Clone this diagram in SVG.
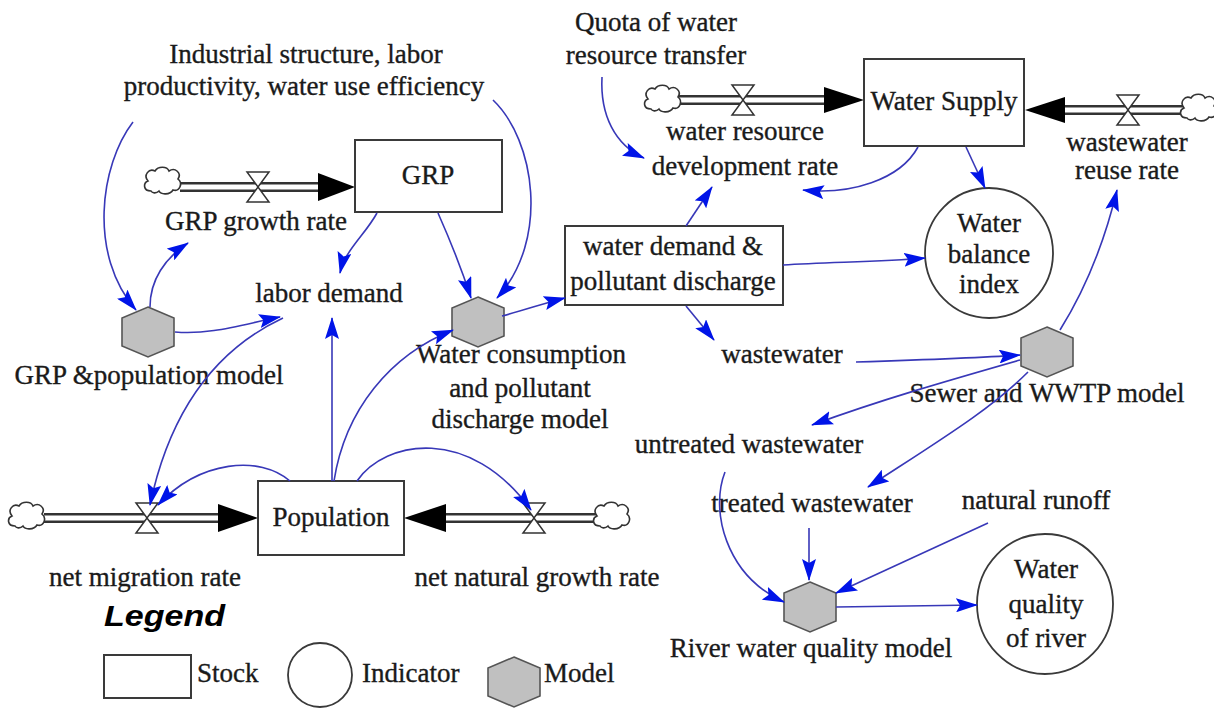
<svg xmlns="http://www.w3.org/2000/svg" width="1214" height="708" viewBox="0 0 1214 708">
  <style>
    .t { font-family: "Liberation Serif", "Times New Roman", serif; font-size: 27px; fill: #1a1a1a; stroke: #1a1a1a; stroke-width: 0.35; text-anchor: middle; }
    .ts { text-anchor: start; }
    .stock { fill: #fff; stroke: #3a3a3a; stroke-width: 2; }
    .ind { fill: #fff; stroke: #3a3a3a; stroke-width: 1.8; }
    .model { fill: #c0c0c0; stroke: #555; stroke-width: 1.6; }
    .link { fill: none; stroke: #3838b8; stroke-width: 1.6; marker-end: url(#arr); }
    .pipeOut { stroke: #333; stroke-width: 10; }
    .pipeIn { stroke: #fff; stroke-width: 5; }
    .head { fill: #000; }
    .cloud { fill: #fff; stroke: #333; stroke-width: 1.6; }
    .valve { fill: #fff; stroke: #333; stroke-width: 1.5; }
    .legend { font-family: "Liberation Sans", Arial, sans-serif; font-size: 30px; font-weight: bold; font-style: italic; fill: #000; }
  </style>
  <defs>
    <marker id="arr" viewBox="0 0 22 14" refX="21" refY="7" markerWidth="22" markerHeight="14" markerUnits="userSpaceOnUse" orient="auto">
      <path d="M0,0 L22,7 L0,14 L4,7 Z" fill="#0014e8"/>
    </marker>
    <path id="cloud" class="cloud" d="M-12,10 C-20,10 -20,2 -15,0 C-20,-6 -14,-13 -8,-10 C-5,-15 4,-15 6,-10 C12,-14 19,-8 15,-2 C20,2 17,11 10,9 C7,14 -2,14 -4,10 C-7,13 -11,12 -12,10 Z"/>
    <g id="valve">
      <path class="valve" d="M-11,-15 L11,-15 L0,0 Z"/>
      <path class="valve" d="M-11,15 L11,15 L0,0 Z"/>
    </g>
    <path id="hex" class="model" d="M0,-25 L26,-14 L26,14 L0,25 L-26,14 L-26,-14 Z"/>
  </defs>

  <rect width="1214" height="708" fill="#fff"/>

  <!-- material flows (pipes, valves, sources) -->
  <g id="flows">
    <!-- GRP growth -->
    <line class="pipeOut" x1="180" y1="187" x2="322" y2="187"/>
    <line class="pipeIn" x1="180" y1="187" x2="322" y2="187"/>
    <polygon class="head" points="318,173 355,187 318,201"/>
    <use href="#cloud" x="163" y="181"/>
    <use href="#valve" x="258" y="187"/>
    <!-- water resource development -->
    <line class="pipeOut" x1="679" y1="100" x2="828" y2="100"/>
    <line class="pipeIn" x1="679" y1="100" x2="828" y2="100"/>
    <polygon class="head" points="824,87 864,100 824,113"/>
    <use href="#cloud" x="663" y="99"/>
    <use href="#valve" x="743" y="100"/>
    <!-- wastewater reuse -->
    <line class="pipeOut" x1="1062" y1="110" x2="1183" y2="110"/>
    <line class="pipeIn" x1="1062" y1="110" x2="1183" y2="110"/>
    <polygon class="head" points="1065,97 1025,110 1065,123"/>
    <use href="#cloud" x="1199" y="108"/>
    <use href="#valve" x="1128" y="110"/>
    <!-- net migration -->
    <line class="pipeOut" x1="44" y1="518" x2="222" y2="518"/>
    <line class="pipeIn" x1="44" y1="518" x2="222" y2="518"/>
    <polygon class="head" points="218,504 258,518 218,532"/>
    <use href="#cloud" x="27" y="516"/>
    <use href="#valve" x="147" y="518"/>
    <!-- net natural growth -->
    <line class="pipeOut" x1="442" y1="518" x2="596" y2="518"/>
    <line class="pipeIn" x1="442" y1="518" x2="596" y2="518"/>
    <polygon class="head" points="446,504 404,518 446,532"/>
    <use href="#cloud" x="612" y="516"/>
    <use href="#valve" x="534" y="518"/>
  </g>

  <!-- stocks -->
  <g id="grp">
    <rect class="stock" x="355" y="140" width="147" height="72"/>
    <text class="t" x="428" y="184">GRP</text>
  </g>
  <g id="water-supply">
    <rect class="stock" x="864" y="59" width="160" height="87"/>
    <text class="t" x="944" y="110">Water Supply</text>
  </g>
  <g id="population">
    <rect class="stock" x="258" y="481" width="146" height="74"/>
    <text class="t" x="331" y="526">Population</text>
  </g>
  <g id="water-demand">
    <rect class="stock" x="565" y="226" width="218" height="79"/>
    <text class="t" x="673" y="255">water demand &amp;</text>
    <text class="t" x="673" y="290">pollutant discharge</text>
  </g>

  <!-- indicators -->
  <g id="water-balance-index">
    <ellipse class="ind" cx="989" cy="253" rx="64" ry="65"/>
    <text class="t" x="989" y="232">Water</text>
    <text class="t" x="989" y="263">balance</text>
    <text class="t" x="989" y="293">index</text>
  </g>
  <g id="water-quality-of-river">
    <ellipse class="ind" cx="1045" cy="604" rx="68" ry="70"/>
    <text class="t" x="1046" y="578">Water</text>
    <text class="t" x="1046" y="613">quality</text>
    <text class="t" x="1046" y="647">of river</text>
  </g>

  <!-- models -->
  <g id="grp-population-model">
    <use href="#hex" x="148" y="332"/>
    <text class="t" x="149" y="384">GRP &amp;population model</text>
  </g>
  <g id="water-consumption-model">
    <use href="#hex" x="478" y="322"/>
    <text class="t" x="521" y="363">Water consumption</text>
    <text class="t" x="520" y="397">and pollutant</text>
    <text class="t" x="520" y="428">discharge model</text>
  </g>
  <g id="sewer-wwtp-model">
    <use href="#hex" x="1047" y="352"/>
    <text class="t" x="1047" y="402">Sewer and WWTP model</text>
  </g>
  <g id="river-water-quality-model">
    <use href="#hex" x="810" y="607"/>
    <text class="t" x="811" y="657">River water quality model</text>
  </g>

  <!-- auxiliary variables and rates -->
  <g id="industrial-structure">
    <text class="t" x="306" y="63">Industrial structure, labor</text>
    <text class="t" x="304" y="95">productivity, water use efficiency</text>
  </g>
  <g id="quota-transfer">
    <text class="t" x="656" y="31">Quota of water</text>
    <text class="t" x="656" y="64">resource transfer</text>
  </g>
  <g id="water-resource-development-rate">
    <text class="t" x="745" y="140">water resource</text>
    <text class="t" x="745" y="175">development rate</text>
  </g>
  <g id="wastewater-reuse-rate">
    <text class="t" x="1127" y="151">wastewater</text>
    <text class="t" x="1127" y="179">reuse rate</text>
  </g>
  <g id="grp-growth-rate">
    <text class="t" x="256" y="230">GRP growth rate</text>
  </g>
  <g id="labor-demand">
    <text class="t" x="329" y="302">labor demand</text>
  </g>
  <g id="wastewater">
    <text class="t" x="782" y="363">wastewater</text>
  </g>
  <g id="untreated-wastewater">
    <text class="t" x="749" y="453">untreated wastewater</text>
  </g>
  <g id="treated-wastewater">
    <text class="t" x="812" y="512">treated wastewater</text>
  </g>
  <g id="natural-runoff">
    <text class="t" x="1036" y="509">natural runoff</text>
  </g>
  <g id="net-migration-rate">
    <text class="t" x="145" y="586">net migration rate</text>
  </g>
  <g id="net-natural-growth-rate">
    <text class="t" x="537" y="586">net natural growth rate</text>
  </g>

  <!-- information links -->
  <g id="connectors">
    <path class="link" d="M133,122 C100,165 88,255 136,310"/>
    <path class="link" d="M493,100 C535,140 550,240 497,298"/>
    <path class="link" d="M150,307 C150,280 165,258 188,243"/>
    <path class="link" d="M175,332 C210,335 240,325 280,317"/>
    <path class="link" d="M283,318 C215,350 170,410 150,505"/>
    <path class="link" d="M377,213 C365,235 345,250 340,273"/>
    <path class="link" d="M438,213 C450,240 462,270 471,298"/>
    <path class="link" d="M502,316 C525,310 545,303 565,298"/>
    <path class="link" d="M332,481 L332,318"/>
    <path class="link" d="M334,481 C345,410 390,355 453,330"/>
    <path class="link" d="M357,481 C385,440 470,425 531,510"/>
    <path class="link" d="M290,481 C260,455 200,460 158,505"/>
    <path class="link" d="M686,226 L712,187"/>
    <path class="link" d="M602,77 C600,115 615,145 644,158"/>
    <path class="link" d="M918,147 C900,180 850,195 803,190"/>
    <path class="link" d="M966,147 L985,188"/>
    <path class="link" d="M783,265 C830,262 880,262 925,258"/>
    <path class="link" d="M686,306 L714,340"/>
    <path class="link" d="M856,362 C920,360 980,358 1020,355"/>
    <path class="link" d="M1020,360 C950,380 880,400 812,425"/>
    <path class="link" d="M1028,372 C990,410 940,440 868,487"/>
    <path class="link" d="M1060,330 C1085,290 1105,240 1117,190"/>
    <path class="link" d="M725,472 C710,510 725,575 784,602"/>
    <path class="link" d="M809,528 L809,580"/>
    <path class="link" d="M988,523 L836,593"/>
    <path class="link" d="M836,607 L977,605"/>
  </g>

  <!-- legend -->
  <g id="legend">
    <text class="legend" x="104" y="626" textLength="121" lengthAdjust="spacingAndGlyphs">Legend</text>
    <rect class="stock" x="104" y="655" width="87" height="43"/>
    <text class="t ts" x="197" y="682">Stock</text>
    <ellipse class="ind" cx="320" cy="675" rx="32" ry="32"/>
    <text class="t ts" x="362" y="682">Indicator</text>
    <use href="#hex" x="514" y="682"/>
    <text class="t ts" x="544" y="682">Model</text>
  </g>
</svg>
